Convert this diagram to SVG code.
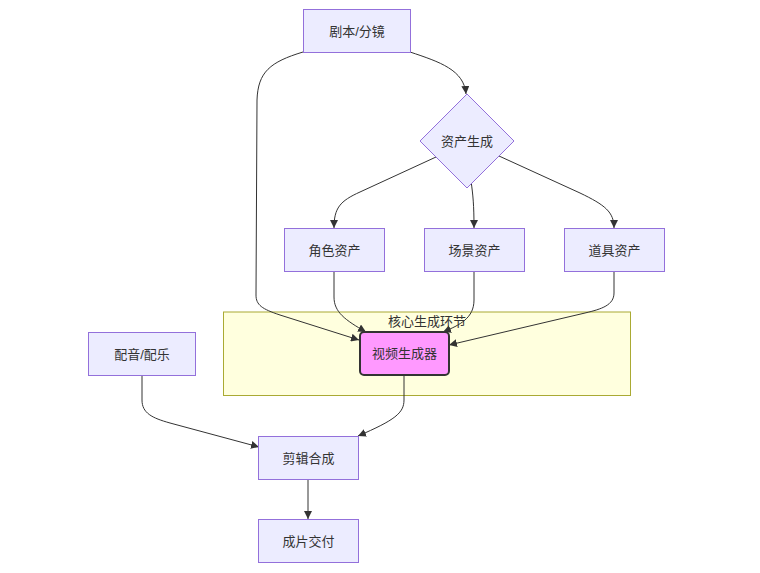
<svg xmlns="http://www.w3.org/2000/svg" width="760" height="573" viewBox="0 0 760 573">
<style>
.n{fill:#ECECFF;stroke:#9370DB;stroke-width:1}
.t{font-family:"Liberation Sans","Noto Sans CJK SC",sans-serif;font-size:13px;fill:#333;text-anchor:middle;dominant-baseline:central}
.e{fill:none;stroke:#333;stroke-width:1}
</style>
<defs>
<marker id="ah" viewBox="0 0 10 10" refX="10" refY="5" markerWidth="8" markerHeight="8" markerUnits="userSpaceOnUse" orient="auto">
<path d="M0,0 L10,5 L0,10 z" fill="#333"/>
</marker>
</defs>
<rect width="760" height="573" fill="#fff"/>
<g id="cluster">
<rect x="223.5" y="312" width="407" height="83.5" fill="#ffffde" stroke="#aaaa33" stroke-width="1"/>
<text class="t" x="427" y="321">核心生成环节</text>
</g>
<g id="edges">
<path class="e" marker-end="url(#ah)" d="M410,52 C440,62 464,70 466,94"/>
<path class="e" marker-end="url(#ah)" d="M303,52 C270,62 258,72 257,100 L256,295 C256,305 262,309 280,315 L359,340"/>
<path class="e" marker-end="url(#ah)" d="M436,157 L360,192 C340,201 334,208 334,228"/>
<path class="e" marker-end="url(#ah)" d="M471,181 C473,195 474,205 474,228"/>
<path class="e" marker-end="url(#ah)" d="M499,156 L580,193 C605,205 614,212 614,228"/>
<path class="e" marker-end="url(#ah)" d="M334,272 L334,297 C334,312 345,320 366,332"/>
<path class="e" marker-end="url(#ah)" d="M474,272 L474,300 C474,318 460,325 443,332"/>
<path class="e" marker-end="url(#ah)" d="M614,272 L614,293 C614,305 602,309 585,313 L449,345"/>
<path class="e" marker-end="url(#ah)" d="M404,375 L404,400 C404,413 395,420 358,436"/>
<path class="e" marker-end="url(#ah)" d="M142,375 L142,400 C142,413 152,418 170,423 L259,447"/>
<path class="e" marker-end="url(#ah)" d="M308,479 L308,519"/>
</g>
<g id="n1"><rect class="n" x="303.5" y="9.5" width="107" height="43"/><text class="t" x="357" y="31">剧本/分镜</text></g>
<g id="n2"><polygon class="n" points="467,94 514,141 467,188 420,141"/><text class="t" x="467" y="141">资产生成</text></g>
<g id="n3"><rect class="n" x="284.5" y="228.5" width="100" height="43"/><text class="t" x="334.5" y="250">角色资产</text></g>
<g id="n4"><rect class="n" x="424.5" y="228.5" width="100" height="43"/><text class="t" x="474.5" y="250">场景资产</text></g>
<g id="n5"><rect class="n" x="564.5" y="228.5" width="100" height="43"/><text class="t" x="614.5" y="250">道具资产</text></g>
<g id="n6"><rect x="360" y="332" width="89" height="43" rx="4" ry="4" fill="#ff99ff" stroke="#333" stroke-width="2"/><text class="t" x="404.5" y="353.5">视频生成器</text></g>
<g id="n7"><rect class="n" x="88.5" y="332.5" width="107" height="43"/><text class="t" x="142" y="354">配音/配乐</text></g>
<g id="n8"><rect class="n" x="258.5" y="436.5" width="100" height="43"/><text class="t" x="308.5" y="458">剪辑合成</text></g>
<g id="n9"><rect class="n" x="258.5" y="519.5" width="100" height="43"/><text class="t" x="308.5" y="541">成片交付</text></g>
</svg>
